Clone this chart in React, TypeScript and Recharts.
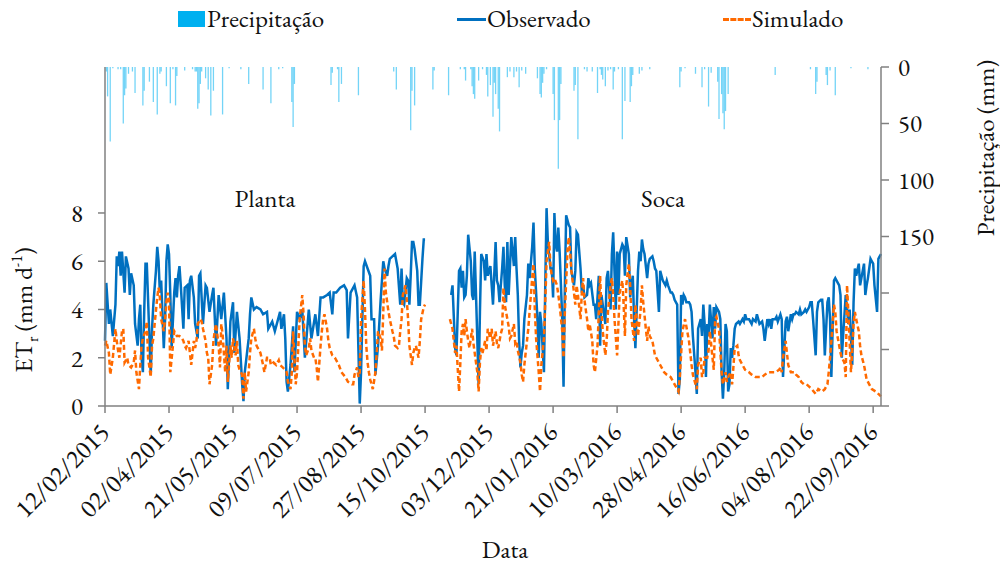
import React from "react";
import { ComposedChart, Bar, Line, XAxis, YAxis } from "recharts";

// dias contados a partir de 12/02/2015
const dateLabels = [
  "12/02/2015", "02/04/2015", "21/05/2015", "09/07/2015", "27/08/2015", "15/10/2015", "03/12/2015",
  "21/01/2016", "10/03/2016", "28/04/2016", "16/06/2016", "04/08/2016", "22/09/2016",
];
const tickDays = [0, 49, 98, 147, 196, 245, 294, 343, 392, 441, 490, 539, 588];
const etTicks = [0, 2, 4, 6, 8];
const precTicks = [0, 50, 100, 150, 200, 250, 300];

// [dia, mm]
const precipitacao: [number, number][] = [
  [1,4],[2,26],[4,66],[6,1],[10,2],[12,2],[14,50],[15,25],[16,19],[18,6],[21,4],[23,23],[29,34],[30,21],[34,13],[37,31],[40,42],[42,6],[43,4],[47,17],[50,32],[52,2],[54,34],[55,8],[61,3],[67,2],[69,4],[70,4],[71,37],[72,32],[73,15],[74,4],[77,10],[79,20],[81,43],[83,21],[90,42],[95,1],[104,2],[110,15],[121,20],[127,32],[133,2],[136,1],[143,31],[144,53],[145,15],[173,16],[174,5],[178,2],[179,31],[181,15],[194,25],[221,4],[223,20],[234,56],[235,21],[237,34],[251,20],[252,3],[263,25],[272,2],[275,2],[276,12],[280,2],[281,17],[282,24],[283,28],[286,12],[289,2],[292,7],[293,26],[295,16],[297,44],[298,14],[299,24],[301,37],[302,57],[308,9],[310,4],[313,9],[315,4],[317,18],[319,3],[322,6],[331,10],[333,24],[334,27],[335,14],[336,6],[338,2],[343,24],[344,47],[347,90],[348,47],[349,15],[359,21],[360,16],[362,64],[367,2],[369,4],[373,4],[377,23],[379,2],[380,7],[381,11],[383,17],[385,3],[387,2],[389,20],[390,4],[393,2],[396,64],[398,30],[402,31],[403,17],[404,7],[409,6],[411,3],[417,2],[440,18],[441,4],[444,1],[452,6],[457,18],[459,2],[462,35],[464,5],[469,13],[470,46],[472,24],[473,41],[474,55],[475,39],[477,24],[513,7],[540,2],[544,24],[545,13],[552,7],[553,16],[555,3],[559,25],[571,1],[584,2],
];

// [dia, ETr]
const obsPlanta: [number, number][] = [
  [0,2.7],[1,5.1],[3,3.4],[4,4.0],[6,2.9],[8,4.2],[9,6.2],[10,5.8],[11,6.4],[12,5.4],[13,6.4],[15,4.7],[16,6.2],[18,5.7],[19,4.6],[20,5.5],[22,5.0],[23,3.4],[25,2.5],[26,3.6],[27,4.2],[28,2.0],[29,1.4],[30,3.9],[31,5.9],[32,5.9],[35,1.3],[36,3.2],[37,4.2],[39,5.6],[40,6.6],[41,6.0],[42,4.7],[43,5.2],[45,2.4],[46,3.6],[47,6.0],[48,6.7],[49,6.3],[50,4.6],[51,2.4],[53,4.7],[54,5.3],[55,4.5],[56,5.4],[57,5.8],[58,5.0],[60,3.2],[61,4.9],[63,5.0],[64,3.6],[65,5.2],[66,5.4],[68,4.5],[69,3.4],[71,2.8],[72,5.4],[73,5.5],[75,3.4],[77,5.0],[78,4.9],[80,3.9],[82,4.6],[83,4.9],[85,2.5],[87,4.6],[89,3.6],[91,4.7],[93,2.8],[94,0.7],[96,3.5],[98,4.3],[99,2.2],[101,3.9],[103,2.8],[105,0.9],[106,0.2],[107,1.4],[110,2.8],[111,3.8],[112,4.5],[114,4.0],[116,4.1],[119,4.0],[121,3.8],[124,3.9],[125,3.2],[128,3.5],[130,3.1],[134,3.9],[135,3.2],[137,3.8],[138,2.8],[139,1.0],[140,0.6],[142,1.7],[144,3.3],[145,1.4],
  [147,3.9],[149,3.6],[151,4.0],[153,2.0],[156,4.0],[158,2.8],[161,3.8],[163,2.9],[165,4.5],[167,4.5],[170,4.6],[172,4.7],[174,3.8],[175,4.7],[177,4.7],[180,4.9],[183,5.0],[185,4.8],[186,2.8],[188,4.7],[191,5.0],[193,4.5],[194,2.3],[195,0.1],[196,1.4],[198,5.8],[199,6.0],[201,5.7],[203,5.4],[204,3.6],[206,3.6],[207,1.3],[209,2.5],[211,4.4],[213,6.0],[214,5.7],[216,5.4],[217,5.8],[218,6.1],[220,6.2],[222,6.3],[224,5.7],[226,4.2],[227,5.7],[228,4.3],[229,4.2],[231,5.3],[232,5.2],[233,4.2],[234,5.4],[235,6.8],[236,6.8],[237,6.5],[239,5.6],[240,4.2],[241,4.2],[243,6.1],[244,6.9],[245,6.9],
];

const obsSoca: [number, number][] = [
  [265,4.6],[266,5.0],[267,3.7],[268,2.4],[269,2.1],[271,5.6],[272,5.7],[273,4.9],[274,5.6],[275,4.5],[276,4.6],[277,5.4],[278,7.1],[280,6.0],[281,4.6],[282,4.4],[283,6.4],[284,4.6],[286,0.9],[287,3.9],[288,6.3],[290,6.0],[291,5.2],[292,6.3],[293,5.4],[295,5.8],[297,4.2],[299,6.8],[300,5.2],[301,5.0],[302,4.3],[304,5.7],[305,6.6],[306,5.0],[307,4.3],[308,6.8],[309,4.6],[311,7.0],[312,6.4],[313,5.8],[314,7.0],[315,5.7],[316,4.6],[317,2.7],[318,1.6],[319,2.2],[320,2.5],[321,3.6],[323,4.6],[324,5.9],[325,5.3],[327,6.6],[328,7.6],[329,5.7],[330,4.7],[331,3.6],[332,2.0],[333,3.9],[334,3.4],[336,1.4],[337,5.0],[338,8.2],[339,6.8],[341,5.7],[342,5.7],[343,4.5],[344,8.0],[345,6.7],[346,6.4],[347,7.4],[348,6.4],[350,3.6],[351,0.8],[352,4.9],[353,7.9],[355,7.5],[356,7.4],[357,5.6],[359,5.0],[360,5.6],[361,7.2],[362,7.1],[364,5.7],[365,4.7],[366,5.0],[367,4.5],[369,4.6],[370,5.3],[371,5.0],[372,5.1],[374,4.2],[375,4.2],[376,3.6],[378,5.4],[379,2.5],[380,4.6],[381,4.2],[383,3.4],[384,5.3],[385,5.6],[387,4.0],[388,6.3],[389,7.2],[390,5.6],[391,4.0],[392,6.4],[393,4.6],[394,6.3],[396,6.7],[397,6.6],[398,5.4],[399,7.0],[401,6.3],[402,4.5],[403,5.0],[404,5.4],[405,3.6],[406,2.4],[408,5.6],[409,6.4],[410,6.0],[411,6.9],[412,6.5],[413,6.3],[415,5.3],[416,5.9],[417,6.1],[419,6.2],[420,6.0],[421,5.7],[422,5.6],[424,3.9],[425,5.6],[426,5.4],[427,5.2],[429,5.0],[430,5.2],[431,5.0],[433,4.7],[434,4.7],[435,4.6],[436,4.4],[438,4.2],[439,0.5],[440,1.1],[441,4.6],[442,4.2],[443,4.6],[444,4.5],[445,4.3],[447,4.3],[448,4.2],[449,3.9],[450,2.9],[452,1.4],[453,0.5],[454,3.2],[456,3.6],[457,2.9],[458,4.2],[459,3.4],[460,1.2],[461,3.4],[462,2.9],[463,4.2],[465,2.8],[466,4.1],[467,3.2],[468,4.1],[470,3.9],[471,3.6],[472,1.4],[473,0.3],[474,1.4],[475,3.4],[476,3.1],[477,0.6],[478,0.9],[479,2.4],[480,2.0],[481,2.5],[482,3.2],[483,3.4],[485,3.5],[486,3.4],[488,3.6],[489,3.5],[490,3.8],[491,3.6],[493,3.6],[494,3.5],[495,3.4],[496,3.6],[498,3.5],[499,3.8],[500,3.6],[501,3.4],[503,3.5],[504,3.2],[505,2.7],[507,3.6],[508,3.4],[509,3.6],[510,3.2],[511,3.6],[513,3.6],[514,3.7],[515,3.5],[517,3.8],[518,3.6],[519,1.2],[521,3.5],[522,3.7],[523,3.1],[525,3.8],[526,3.6],[527,3.8],[528,3.8],[529,3.9],[531,3.8],[532,4.0],[533,3.8],[535,3.9],[536,4.0],[537,3.9],[539,4.1],[540,4.3],[541,4.3],[542,3.6],[544,2.1],[545,3.9],[546,4.3],[548,4.4],[549,4.4],[550,3.6],[551,2.1],[553,4.3],[554,4.5],[555,3.6],[556,1.2],[558,5.2],[559,5.3],[560,5.2],[562,5.0],[563,4.6],[564,2.0],[565,2.9],[567,4.6],[568,4.0],[569,3.4],[570,4.0],[572,1.7],[573,4.3],[574,5.7],[575,5.4],[577,5.9],[578,5.0],[579,5.3],[581,5.9],[582,4.6],[583,5.0],[584,5.3],[586,6.1],[587,6.0],[588,5.9],[589,5.0],[591,3.9],[592,6.1],[593,6.2],[594,6.3],
];

const simPlanta: [number, number][] = [
  [0,2.5],[1,2.7],[3,2.2],[4,1.3],[6,2.0],[8,3.2],[9,2.7],[10,2.3],[11,2.0],[13,3.1],[14,3.2],[15,1.8],[17,2.0],[18,1.7],[20,1.6],[22,1.8],[23,2.3],[24,1.4],[26,0.7],[27,1.7],[28,2.5],[29,2.8],[31,3.1],[32,3.5],[33,2.0],[35,1.2],[36,2.5],[37,2.8],[38,3.4],[40,4.5],[41,4.9],[42,4.5],[43,3.6],[45,3.1],[46,3.6],[47,4.3],[48,4.7],[49,4.4],[50,1.4],[52,2.5],[53,3.1],[55,2.9],[57,2.9],[59,2.8],[60,2.7],[61,2.5],[62,2.4],[64,2.7],[65,2.2],[66,1.7],[68,2.7],[69,2.4],[70,2.7],[71,3.4],[73,3.6],[74,3.5],[75,3.2],[77,2.7],[78,2.2],[79,2.0],[80,0.9],[82,1.7],[83,2.7],[84,3.1],[85,3.4],[87,2.5],[88,1.6],[89,3.4],[90,3.0],[92,1.4],[93,2.5],[94,1.0],[96,2.5],[97,2.0],[98,2.8],[100,2.1],[101,2.7],[102,1.7],[103,1.5],[105,1.3],[106,0.3],[107,1.4],[108,0.6],[110,1.4],[111,2.2],[112,2.8],[114,3.2],[115,2.8],[116,2.5],[118,2.3],[119,2.2],[121,1.7],[122,1.4],[124,2.0],[126,2.0],[127,1.7],[129,1.8],[131,1.7],[133,1.9],[134,1.7],[136,1.6],[138,1.5],[139,1.4],[140,1.0],[142,0.7],[143,1.4],[144,3.1],[145,2.0],[146,0.9],[147,1.4],[148,2.5],[149,3.6],[151,4.6],[152,3.8],[153,2.5],[154,2.1],[156,2.4],[157,2.8],[158,2.3],[160,2.0],[161,2.0],[162,1.6],[163,1.0],[165,2.5],[166,3.1],[167,3.6],[168,3.8],[170,3.2],[171,2.7],[172,2.4],[174,2.1],[176,2.0],[179,1.7],[181,1.4],[184,1.2],[186,1.0],[189,0.9],[190,0.9],[191,1.3],[193,1.6],[194,1.2],[195,1.4],[196,3.6],[198,5.2],[199,4.0],[200,2.5],[201,1.8],[202,1.4],[203,1.1],[204,0.9],[205,0.7],[207,1.4],[208,2.2],[209,3.1],[211,2.8],[212,2.3],[213,3.9],[214,5.7],[215,4.7],[216,4.3],[217,3.9],[218,3.6],[220,3.1],[221,2.9],[222,2.5],[224,2.4],[225,2.5],[226,3.1],[227,3.6],[228,4.6],[230,5.0],[231,4.4],[232,3.6],[233,2.5],[235,1.7],[236,2.2],[237,2.4],[238,2.5],[240,2.0],[241,2.7],[242,3.6],[244,4.1],[245,4.2],
];

const simSoca: [number, number][] = [
  [264,3.6],[266,3.2],[267,2.7],[268,2.2],[269,2.5],[271,0.6],[272,1.8],[273,3.1],[274,3.4],[275,2.9],[276,3.6],[277,3.1],[278,2.7],[279,2.4],[281,3.2],[282,2.6],[283,2.2],[285,1.4],[286,0.6],[287,1.8],[288,2.4],[289,2.2],[291,2.7],[292,2.3],[293,3.2],[295,2.8],[296,3.2],[297,2.5],[299,3.1],[300,2.6],[301,2.4],[303,3.0],[304,3.2],[305,4.9],[306,4.2],[308,3.6],[309,3.3],[310,2.8],[311,2.9],[313,3.4],[314,2.6],[315,2.7],[316,2.3],[318,1.8],[319,1.3],[320,1.0],[321,1.7],[323,2.7],[324,3.2],[325,3.9],[327,5.3],[328,5.9],[329,4.0],[330,2.8],[332,1.4],[333,0.6],[334,1.7],[336,2.8],[337,4.3],[338,6.0],[340,6.8],[341,5.8],[342,5.4],[343,5.2],[344,5.3],[346,5.0],[347,4.6],[348,4.2],[350,3.1],[351,2.0],[352,3.9],[354,6.4],[355,7.0],[356,6.4],[357,5.6],[359,4.7],[360,4.2],[361,5.0],[362,4.6],[364,3.6],[365,4.7],[366,5.3],[367,4.4],[369,3.6],[370,3.1],[371,3.4],[373,2.7],[374,1.7],[375,1.4],[377,2.5],[378,3.9],[379,5.4],[380,3.9],[381,3.1],[383,2.1],[384,2.7],[385,3.9],[387,5.0],[388,5.3],[389,4.6],[390,3.6],[392,2.1],[393,3.4],[394,4.7],[396,5.2],[397,4.2],[398,2.9],[399,5.0],[401,5.9],[402,5.0],[403,3.6],[405,2.7],[406,4.2],[407,3.6],[408,2.9],[410,4.0],[411,5.0],[412,4.3],[414,3.2],[415,2.7],[416,3.3],[417,2.9],[419,2.7],[420,2.4],[421,2.1],[422,2.0],[424,1.8],[425,1.7],[428,1.4],[430,1.3],[433,1.2],[435,1.0],[437,0.8],[439,0.6],[440,1.2],[442,3.1],[444,3.6],[447,2.7],[449,1.7],[450,1.3],[452,0.9],[453,0.7],[454,1.7],[456,2.0],[457,1.2],[458,1.4],[459,2.0],[461,2.0],[462,2.3],[463,3.1],[465,2.0],[466,1.5],[467,3.6],[468,3.7],[470,3.2],[471,2.3],[472,1.4],[473,0.9],[475,1.4],[476,1.0],[477,1.2],[479,1.4],[480,0.9],[481,1.6],[482,2.4],[484,2.5],[485,2.1],[486,1.9],[488,1.7],[490,1.5],[493,1.4],[495,1.3],[498,1.2],[500,1.2],[503,1.2],[505,1.3],[508,1.4],[511,1.4],[513,1.4],[516,1.5],[517,1.6],[518,1.4],[519,2.0],[521,2.7],[522,2.2],[523,1.7],[525,1.4],[528,1.4],[529,1.3],[531,1.2],[533,1.0],[535,0.9],[537,0.9],[539,0.8],[541,0.7],[544,0.5],[546,0.7],[549,0.6],[551,0.7],[553,0.9],[554,1.4],[555,2.0],[556,2.7],[558,4.2],[559,3.9],[560,3.1],[562,2.5],[563,2.2],[564,2.0],[566,1.8],[567,1.2],[568,5.0],[569,3.9],[571,1.4],[572,2.3],[573,3.4],[574,3.9],[575,3.6],[577,3.1],[578,2.5],[579,2.1],[581,1.7],[582,1.4],[583,1.1],[585,0.9],[587,0.7],[590,0.6],[592,0.5],[594,0.4],
];

// junta tudo numa tabela por dia
const rowsByDay = new Map<number, any>();
const put = (list: [number, number][], key: string) =>
  list.forEach(([d, v]) => {
    const row = rowsByDay.get(d) ?? { day: d };
    row[key] = v;
    rowsByDay.set(d, row);
  });
put(precipitacao, "prec");
put(obsPlanta, "obsA");
put(obsSoca, "obsB");
put(simPlanta, "simA");
put(simSoca, "simB");
const data = Array.from(rowsByDay.values()).sort((a, b) => a.day - b.day);

const FONT = "EB Garamond";
const FS = 25;
const AXIS = "#808080";
const BLUE = "#0070C0";
const ORANGE = "#FF6A00";

const DateTick = (props: any) => {
  const { x, y, payload } = props;
  const i = tickDays.indexOf(payload.value);
  return (
    <text
      transform={`translate(${x + 6},${y + 21}) rotate(-45)`}
      textAnchor="end"
      fontFamily={FONT}
      fontSize={26}
      fill="#111"
    >
      {dateLabels[i]}
    </text>
  );
};

const abs = (left: number, top: number): React.CSSProperties => ({
  position: "absolute",
  left,
  top,
  fontFamily: FONT,
  fontSize: FS,
  color: "#111",
  whiteSpace: "nowrap",
  lineHeight: 1,
});

export default function App() {
  return (
    <div style={{ position: "absolute", left: 0, top: 0, width: 1000, height: 564, background: "#fff" }}>
      <ComposedChart
        width={1000}
        height={564}
        data={data}
        margin={{ top: 67, right: 0, bottom: 0, left: 0 }}
      >
        <XAxis
          dataKey="day"
          type="number"
          domain={[0, 594]}
          ticks={tickDays}
          interval={0}
          height={158}
          tick={<DateTick />}
          tickSize={7}
          tickMargin={0}
          axisLine={{ stroke: AXIS, strokeWidth: 1.5 }}
          tickLine={{ stroke: AXIS, strokeWidth: 1.5 }}
        />
        <YAxis
          yAxisId="et"
          domain={[0, 14.05]}
          ticks={etTicks}
          allowDataOverflow
          width={105}
          tickSize={7}
          tickMargin={15}
          tick={{ fontFamily: FONT, fontSize: FS, fill: "#111" }}
          axisLine={{ stroke: AXIS, strokeWidth: 1.5 }}
          tickLine={{ stroke: AXIS, strokeWidth: 1.5 }}
        />
        <YAxis
          yAxisId="p"
          orientation="right"
          reversed
          domain={[0, 300]}
          ticks={precTicks}
          interval={0}
          tickFormatter={(v: number) => (v <= 150 ? String(v) : "")}
          width={119}
          tickSize={8}
          tickMargin={9}
          tick={{ fontFamily: FONT, fontSize: FS, fill: "#111" }}
          axisLine={{ stroke: AXIS, strokeWidth: 1.5 }}
          tickLine={{ stroke: AXIS, strokeWidth: 1.5 }}
        />
        <Bar yAxisId="p" dataKey="prec" fill="#00B0F0" fillOpacity={0.55} barSize={1.3} isAnimationActive={false} />
        <Line yAxisId="et" dataKey="obsA" stroke={BLUE} strokeWidth={2.5} dot={false} connectNulls isAnimationActive={false} />
        <Line yAxisId="et" dataKey="obsB" stroke={BLUE} strokeWidth={2.5} dot={false} connectNulls isAnimationActive={false} />
        <Line yAxisId="et" dataKey="simA" stroke={ORANGE} strokeWidth={2.5} strokeDasharray="5 3" dot={false} connectNulls isAnimationActive={false} />
        <Line yAxisId="et" dataKey="simB" stroke={ORANGE} strokeWidth={2.5} strokeDasharray="5 3" dot={false} connectNulls isAnimationActive={false} />
      </ComposedChart>

      {/* legenda */}
      <div style={{ position: "absolute", left: 178, top: 11, width: 27, height: 16, background: "#00B0F0" }} />
      <div style={abs(207, 6)}>Precipitação</div>
      <div style={{ position: "absolute", left: 457, top: 18, width: 29, height: 3, background: BLUE }} />
      <div style={abs(487, 6)}>Observado</div>
      <div style={{ position: "absolute", left: 723, top: 18, width: 28, height: 0, borderTop: `3px dashed ${ORANGE}` }} />
      <div style={abs(752, 6)}>Simulado</div>

      <div style={{ ...abs(265, 198), transform: "translate(-50%,-50%)" }}>Planta</div>
      <div style={{ ...abs(663, 198), transform: "translate(-50%,-50%)" }}>Soca</div>
      <div style={{ ...abs(505, 549), transform: "translate(-50%,-50%)" }}>Data</div>

      <div style={{ ...abs(25, 310), transform: "translate(-50%,-50%) rotate(-90deg)" }}>
        ET<sub style={{ fontSize: 16 }}>r</sub> (mm d<sup style={{ fontSize: 16 }}>-1</sup>)
      </div>
      <div style={{ ...abs(985, 148), transform: "translate(-50%,-50%) rotate(-90deg)" }}>
        Precipitação (mm)
      </div>
    </div>
  );
}
